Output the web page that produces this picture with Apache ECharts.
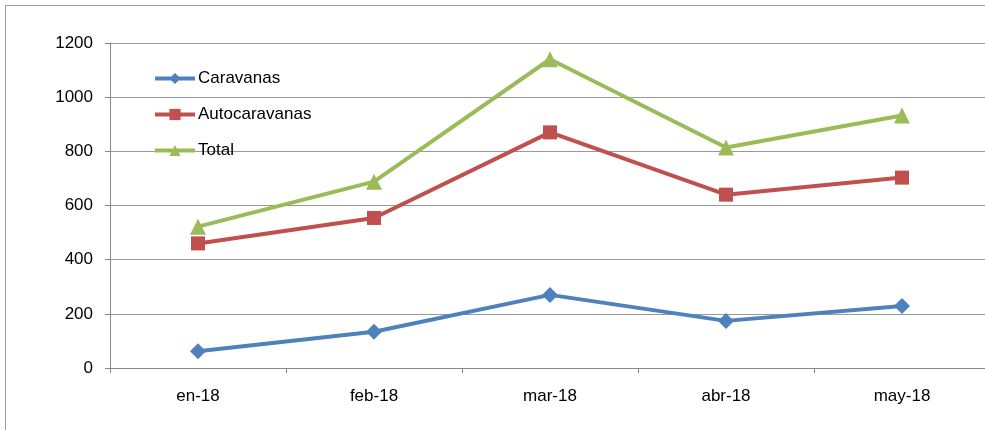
<!DOCTYPE html>
<html><head><meta charset="utf-8">
<script src="https://cdn.jsdelivr.net/npm/echarts@6/dist/echarts.min.js"></script>
<style>html,body{margin:0;padding:0;background:#fff;overflow:hidden}#c{width:1000px;height:430px}
#frame{position:absolute;left:5px;top:5px;width:1200px;height:1200px;border:1px solid #a0a0a0;pointer-events:none}</style>
</head><body><div id="c"></div><div id="frame"></div>
<script>
const categories = ['en-18','feb-18','mar-18','abr-18','may-18'];
const caravanas = [62,134,270,174,229];
const autocaravanas = [460,554,870,640,703];
const total = [522,688,1140,814,932];
const yTicks = [0,200,400,600,800,1000,1200];

const font = 'Liberation Sans';
const chart = echarts.init(document.getElementById('c'));
chart.setOption({
  animation:false,
  textStyle:{fontFamily:font},
  grid:{left:110,width:880,top:43,height:325,containLabel:false},
  legend:{
    orient:'vertical', left:153, top:70, padding:0, itemWidth:40, itemHeight:14, itemGap:19,
    textStyle:{fontSize:17,color:'#000',fontFamily:font,padding:[0,0,0,-2]},
    data:[
      {name:'Caravanas',itemStyle:{color:'#4F81BD'},lineStyle:{width:4,color:'#4F81BD'}},
      {name:'Autocaravanas',itemStyle:{color:'#C0504D'},lineStyle:{width:4,color:'#C0504D'}},
      {name:'Total',itemStyle:{color:'#9BBB59'},lineStyle:{width:4,color:'#9BBB59'}}
    ]
  },
  xAxis:{type:'category',data:categories,boundaryGap:true,
    axisLine:{lineStyle:{color:'#888',width:1}},
    axisTick:{show:true,length:5,lineStyle:{color:'#888'}},
    axisLabel:{fontSize:17,color:'#000',margin:20,fontFamily:font}},
  yAxis:{type:'value',min:yTicks[0],max:yTicks[yTicks.length-1],interval:200,
    axisLine:{show:true,lineStyle:{color:'#888'}},
    axisTick:{show:true,length:5,inside:false,lineStyle:{color:'#888'}},
    splitLine:{lineStyle:{color:'#999',width:1}},
    axisLabel:{fontSize:17,color:'#000',margin:17,fontFamily:font,formatter:v=>String(v)}},
  series:[
    {name:'Caravanas',type:'line',data:caravanas,symbol:'diamond',symbolSize:16,
      lineStyle:{width:4,color:'#4F81BD'},itemStyle:{color:'#4F81BD'}},
    {name:'Autocaravanas',type:'line',data:autocaravanas,symbol:'rect',symbolSize:14,
      lineStyle:{width:4,color:'#C0504D'},itemStyle:{color:'#C0504D'}},
    {name:'Total',type:'line',data:total,symbol:'triangle',symbolSize:16,
      lineStyle:{width:4,color:'#9BBB59'},itemStyle:{color:'#9BBB59'}}
  ]
});
</script></body></html>
